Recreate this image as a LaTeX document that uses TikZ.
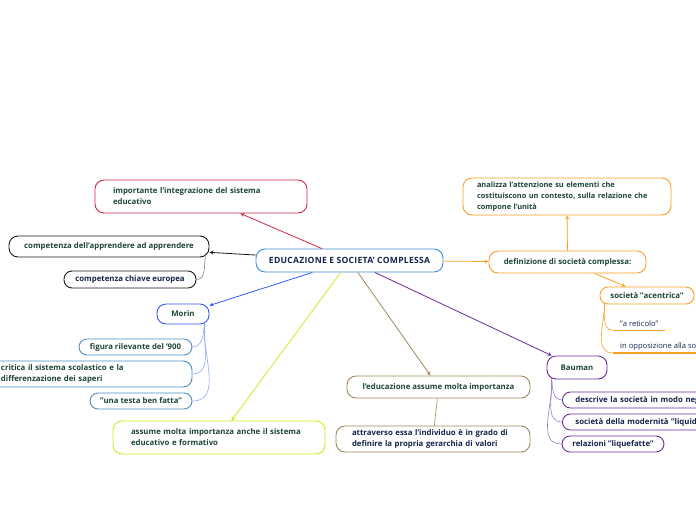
\documentclass[tikz,border=0pt]{standalone}
\usepackage{fontspec}
\setmainfont{Open Sans}
\usepackage{tikz}
\usetikzlibrary{arrows, positioning}
\definecolor{txtgreen}{HTML}{1E4634}
\definecolor{txtnavy}{HTML}{14234A}
\definecolor{cenblue}{HTML}{3A8FD9}
\definecolor{morblue}{HTML}{2E5BF5}
\definecolor{kidblue}{HTML}{4A8FC6}
\definecolor{kidline}{HTML}{8CA6FF}
\definecolor{linered}{HTML}{D02848}
\definecolor{lineblack}{HTML}{1A1A1A}
\definecolor{lineorange}{HTML}{F7A021}
\definecolor{lineyellow}{HTML}{CCEB1E}
\definecolor{linetan}{HTML}{A08A5C}
\definecolor{linepurple}{HTML}{6A2C9A}
\definecolor{kidpurple}{HTML}{9C7CC8}
\tikzstyle{arrow} = [->,>=stealth, line width=0.8pt]

\begin{document}
\begin{tikzpicture}[x=1pt, y=1pt,
    topic/.style={rectangle, draw, rounded corners=9pt, fill=white, line width=0.9pt, font=\fontsize{7.8}{11}\selectfont\bfseries, text=txtgreen},
    wrapbox/.style 2 args={align=left, text width=#1, inner xsep=#2},
    leaf/.style={font=\fontsize{7.6}{11}\selectfont, text=txtnavy, inner xsep=7pt, inner ysep=3pt, anchor=west},
    twig/.style={line width=0.6pt}
  ]
    \useasboundingbox (0,0) rectangle (696,-520);

    % centre
    \node[topic, draw=cenblue, text=txtnavy, font=\fontsize{8.6}{11}\selectfont\bfseries\addfontfeature{LetterSpace=3}, minimum width=187, minimum height=23] (cen) at (349.5,-260.5) {EDUCAZIONE E SOCIETA' COMPLESSA};

    % upper left
    \node[topic, draw=linered, wrapbox={176}{18}, minimum height=33] (imp) at (201,-196.5) {importante l'integrazione del sistema\\educativo};
    \node[topic, draw=lineblack, minimum width=200, minimum height=21] (comp) at (109,-246.5) {competenza dell'apprendere ad apprendere};
    \node[topic, draw=lineblack, text=txtnavy, rounded corners=8pt, minimum width=132, minimum height=17] (chiave) at (130,-279.5) {competenza chiave europea};

    % right
    \node[topic, draw=lineorange, font=\fontsize{7.4}{10.6}\selectfont\bfseries, wrapbox={180}{14}, minimum height=37] (anal) at (567,-196.5) {analizza l'attenzione su elementi che\\costituiscono un contesto, sulla relazione che\\compone l'unità};
    \node[topic, draw=lineorange, minimum width=157, minimum height=22] (defin) at (567.5,-262) {definizione di società complessa:};
    \node[topic, draw=lineorange, rounded corners=8pt, minimum width=94, minimum height=17] (acen) at (647,-295.5) {società "acentrica"};
    \node[leaf] (ret) at (613,-324) {"a reticolo"};
    \node[leaf] (oppo) at (613,-346) {in opposizione alla società};

    % Morin
    \node[topic, draw=morblue, minimum width=52, minimum height=20] (mor) at (183,-314) {Morin};
    \node[topic, draw=kidblue, rounded corners=8pt, minimum width=113, minimum height=16] (fig) at (135.5,-347) {figura rilevante del '900};
    \node[topic, draw=kidblue, wrapbox={170}{21}, minimum height=26] (crit) at (86,-374) {critica il sistema scolastico e la\\differenzazione dei saperi};
    \node[topic, draw=kidblue, rounded corners=8pt, minimum width=102, minimum height=16] (testa) at (141,-401) {"una testa ben fatta"};

    % bottom
    \node[topic, draw=lineyellow, wrapbox={176}{18}, minimum height=33] (assu) at (219,-437.5) {assume molta importanza anche il sistema\\educativo e formativo};
    \node[topic, draw=linetan, minimum width=183, minimum height=22] (educ) at (438.5,-387) {l'educazione assume molta importanza};
    \node[topic, draw=linetan, text=txtnavy, wrapbox={162}{16}, minimum height=26] (attr) at (433,-439) {attraverso essa l'individuo è in grado di\\definire la propria gerarchia di valori};

    % Bauman
    \node[topic, draw=linepurple, minimum width=60, minimum height=23] (bau) at (577,-367.5) {Bauman};
    \node[topic, draw=linepurple, text=txtnavy, rounded corners=8pt, wrapbox={170}{13}, minimum height=16, anchor=west] (desc) at (562,-400) {descrive la società in modo negativo};
    \node[topic, draw=linepurple, text=txtnavy, rounded corners=8pt, wrapbox={170}{13}, minimum height=16, anchor=west] (liq) at (562,-422) {società della modernità "liquida"};
    \node[topic, draw=linepurple, text=txtnavy, rounded corners=8pt, minimum width=102, minimum height=16] (lqf) at (613,-444) {relazioni "liquefatte"};

    % main branches
    \draw[arrow, linered] (cen) -- (imp);
    \draw[arrow, lineblack] (cen) -- (comp);
    \draw[arrow, morblue] (cen) -- (mor);
    \draw[arrow, lineyellow] (cen) -- (assu);
    \draw[arrow, linetan] (cen) -- (educ);
    \draw[arrow, linepurple] (cen) -- (bau);
    \draw[arrow, lineorange] (cen) -- (defin);
    \draw[arrow, lineorange] (defin) -- (anal);
    \draw[arrow, lineorange] (defin) -- (acen);

    % sub branches
    \draw[twig, gray] ([xshift=-4pt,yshift=1pt]comp.south east) to[out=-100,in=0] (chiave.east);
    \draw[twig, linetan] (educ) -- (attr);
    \foreach \k in {fig, crit, testa}
      \draw[twig, kidline] ([xshift=-5pt,yshift=1pt]mor.south east) to[out=-95,in=0] (\k.east);
    \foreach \k in {desc, liq, lqf}
      \draw[twig, kidpurple] ([xshift=5pt,yshift=1pt]bau.south west) to[out=-85,in=180] (\k.west);
    \foreach \k in {ret, oppo} {
      \draw[twig, lineorange] ([xshift=5pt,yshift=1pt]acen.south west) to[out=-90,in=180] (\k.south west);
      \draw[lineorange, line width=1.2pt] (\k.south west) -- (\k.south east);
    }
\end{tikzpicture}
\end{document}
